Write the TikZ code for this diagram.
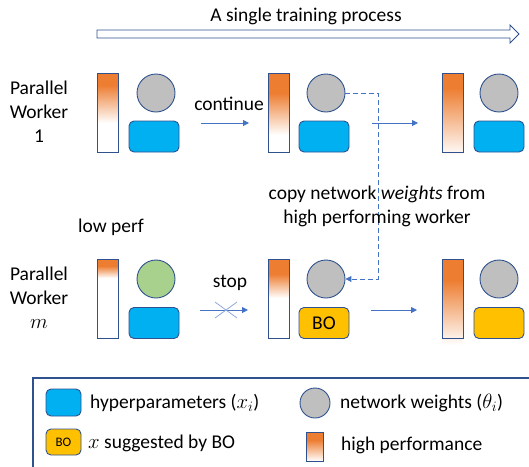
\documentclass[tikz,border=0pt]{standalone}
\usepackage{fontspec}
\setmainfont{Carlito}
\usetikzlibrary{arrows.meta}

\definecolor{perf}{HTML}{ED7D31}
\definecolor{hyper}{HTML}{00B0F0}
\definecolor{wgray}{HTML}{BFBFBF}
\definecolor{wgreen}{HTML}{A9D18E}
\definecolor{bocol}{HTML}{FFC000}
\definecolor{edge}{HTML}{2F528F}
\definecolor{flow}{HTML}{4472C4}
\definecolor{crossc}{HTML}{8FAADC}

\tikzset{
  weights/.style={circle, draw=edge, fill=wgray, line width=0.9pt,
    minimum size=38pt, inner sep=0pt},
  hyperbox/.style={rectangle, rounded corners=5pt, draw=edge, fill=hyper,
    line width=0.9pt, minimum width=50pt, minimum height=31pt, inner sep=0pt},
  bobox/.style={hyperbox, fill=bocol},
  flowarrow/.style={draw=flow, line width=1pt, -{Triangle[length=6pt,width=6pt]}},
  txt/.style={font=\fontsize{19.5}{24}\selectfont, inner sep=0pt, align=center},
}

% performance bar: name, left x, top y, width, height, end of solid orange, end of fade
\newcommand\perfbar[7]{%
  \fill[perf] (#2,#3) rectangle (#2+#4,#6);
  \shade[top color=perf, bottom color=white] (#2,#6) rectangle (#2+#4,#7);
  \node[draw=edge, line width=0.9pt, minimum width=#4pt, minimum height=#5pt,
        inner sep=0pt, anchor=north west] (#1) at (#2,#3) {};
}

\begin{document}
\begin{tikzpicture}[x=1pt, y=-1pt]
  \useasboundingbox (0,0) rectangle (529,466);
  \clip (0,0) rectangle (529,466);

  % timeline
  \node[txt] (title) at (306,16) {A single training process};
  \draw[edge, fill=white, line width=0.9pt]
    (97,30) -- (510,30) -- (510,25) -- (519,34) -- (510,43) -- (510,38) -- (97,38) -- cycle;

  % worker labels
  \node[txt] (lab1) at (39,112) {Parallel\\Worker\\1};
  \node[txt] (labm) at (39,298) {Parallel\\Worker\\$m$};

  % worker 1
  \perfbar{p11}{97}{73}{21}{79}{85}{123}
  \node[weights] (w11) at (156,93) {};
  \node[hyperbox] (h11) at (154,136.5) {};

  \perfbar{p12}{268}{73}{21}{79}{93}{135}
  \node[weights] (w12) at (326,93) {};
  \node[hyperbox] (h12) at (324,136.5) {};

  \perfbar{p13}{442}{73}{21}{79}{88}{156}
  \node[weights] (w13) at (499,93) {};
  \node[hyperbox] (h13) at (499,136.5) {};

  % worker m
  \perfbar{p21}{97}{259}{21}{79}{266}{278}
  \node[weights, fill=wgreen] (w21) at (156,279) {};
  \node[hyperbox] (h21) at (154,323) {};

  \perfbar{p22}{268}{259}{21}{79}{274}{298}
  \node[weights] (w22) at (326,279) {};
  \node[bobox, font=\fontsize{19.5}{24}\selectfont] (h22) at (324,323) {BO};

  \perfbar{p23}{442}{259}{21}{79}{280}{345}
  \node[weights] (w23) at (499,279) {};
  \node[bobox] (h23) at (499,323) {};

  % transitions
  \coordinate (c1a) at (201,123);
  \coordinate (c1b) at (249,123);
  \coordinate (c2a) at (372,123);
  \coordinate (c2b) at (418,123);
  \coordinate (s1a) at (200,310);
  \coordinate (s1b) at (248,310);
  \coordinate (s2a) at (371,310);
  \coordinate (s2b) at (417,310);
  \draw[flowarrow] (c1a) -- (c1b);
  \draw[flowarrow] (c2a) -- (c2b);
  \draw[flowarrow] (s1a) -- (s1b);
  \draw[flowarrow] (s2a) -- (s2b);
  \node[txt] (cont) at (229,104) {continue};
  \node[txt] (stop) at (230,283) {stop};
  \coordinate (xa) at (215,302);
  \coordinate (xb) at (237,318);
  \coordinate (xc) at (215,318);
  \coordinate (xd) at (237,302);
  \draw[crossc, line width=0.8pt] (xa) -- (xb) (xc) -- (xd);

  % weight copy
  \draw[flow, line width=1pt, dash pattern=on 5pt off 3pt,
        -{Triangle[length=6pt,width=6pt]}]
    (w12.east) -- ++(33,0) coordinate (bend) |- (w22.east);
  \node[txt] (copy) at (377,206.5) {copy network \textit{weights} from\\high performing worker};
  \node[txt] (low) at (111,227) {low perf};

  % legend
  \draw[edge, line width=1.6pt] (33,378) rectangle (560,500);
  \node[hyperbox, minimum width=35pt, minimum height=27pt] (lh) at (63.5,402.5) {};
  \node[txt, anchor=west] (lht) at (90,403) {hyperparameters ($x_i$)};
  \node[weights, minimum size=30pt] (lw) at (315,403) {};
  \node[txt, anchor=west] (lwt) at (340,403) {network weights ($\theta_i$)};
  \node[bobox, minimum width=35pt, minimum height=26pt,
        font=\fontsize{13}{15}\selectfont] (lb) at (63.5,442) {BO};
  \node[txt, anchor=west] (lbt) at (88,443) {$x$ suggested by BO};
  \perfbar{lp}{306}{432}{17}{29}{440}{461}
  \node[txt, anchor=west] (lpt) at (341,445) {high performance};
\end{tikzpicture}
\end{document}
